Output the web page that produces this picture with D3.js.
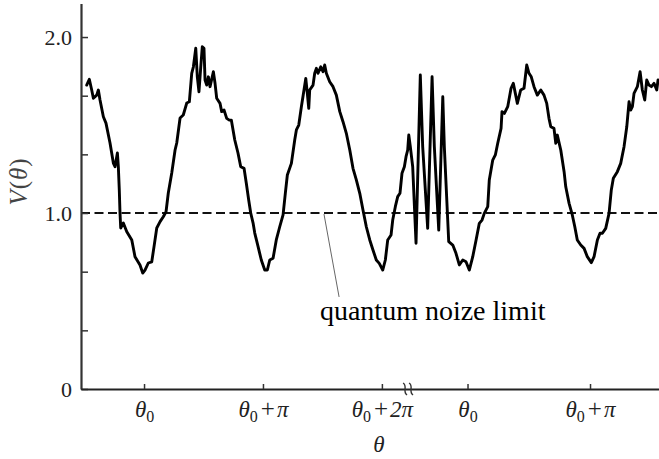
<!DOCTYPE html>
<html><head><meta charset="utf-8">
<script src="https://cdn.jsdelivr.net/npm/d3@7"></script>
<style>body{margin:0;background:#fff}svg{display:block}</style>
</head><body>
<svg id="c" width="659" height="459"></svg>
<script>
// phase (in units of π from θ0) vs V(θ)
const traceFirst = [
[-0.482,1.727],[-0.460,1.760],[-0.440,1.699],[-0.426,1.652],[-0.398,1.670],[-0.384,1.699],[-0.370,1.642],[-0.342,1.547],[-0.320,1.511],[-0.286,1.398],
[-0.258,1.284],[-0.244,1.263],[-0.224,1.341],[-0.216,1.263],[-0.208,1.131],[-0.202,1.000],[-0.196,0.915],[-0.174,0.943],[-0.145,0.894],[-0.103,0.847],
[-0.076,0.752],[-0.034,0.705],[-0.011,0.659],[0.008,0.676],[0.036,0.716],[0.065,0.723],[0.084,0.809],[0.107,0.915],[0.135,0.951],[0.162,0.979],
[0.185,1.007],[0.204,1.114],[0.233,1.227],[0.261,1.358],[0.275,1.398],[0.303,1.540],[0.330,1.557],[0.359,1.625],[0.381,1.632],[0.401,1.794],
[0.415,1.831],[0.435,1.936],[0.448,1.774],[0.462,1.689],[0.477,1.831],[0.490,1.945],[0.504,1.936],[0.513,1.756],[0.527,1.727],[0.541,1.774],
[0.555,1.718],[0.583,1.803],[0.597,1.737],[0.611,1.652],[0.639,1.623],[0.653,1.576],[0.673,1.585],[0.695,1.538],[0.717,1.528]
];
const traceSecond = [
[0.734,1.528],[0.763,1.415],[0.790,1.341],[0.813,1.263],[0.841,1.254],[0.860,1.169],[0.880,1.074],[0.897,1.000],[0.917,0.943],[0.931,0.886],
[0.959,0.809],[0.986,0.733],[1.015,0.676],[1.037,0.676],[1.057,0.733],[1.085,0.743],[1.112,0.847],[1.141,0.922],[1.169,0.989],[1.188,1.112],
[1.205,1.216],[1.239,1.282],[1.267,1.415],[1.281,1.472],[1.301,1.500],[1.323,1.604],[1.345,1.699],[1.360,1.765],[1.373,1.680],[1.385,1.595],
[1.393,1.699],[1.421,1.727],[1.435,1.794],[1.449,1.822],[1.463,1.794],[1.486,1.831],[1.505,1.803],[1.519,1.841],[1.533,1.794],[1.561,1.746],
[1.589,1.718],[1.617,1.670],[1.646,1.576],[1.673,1.519],[1.701,1.453],[1.730,1.358],[1.757,1.254],[1.785,1.188],[1.814,1.112],[1.841,1.017],
[1.869,0.922],[1.898,0.847],[1.925,0.790],[1.953,0.733],[1.978,0.714],[2.007,0.676],[2.029,0.733],[2.049,0.847],[2.077,0.875],[2.091,0.960],
[2.113,1.036],[2.133,1.093],[2.152,1.112],[2.169,1.226],[2.189,1.263],[2.203,1.320],[2.217,1.358],[2.226,1.443],[2.239,1.377],[2.259,1.263]
];
const traceNoisy = [
[2.287,0.828],[2.323,1.784],[2.343,1.377],[2.385,0.913],[2.422,1.774],[2.441,1.377],[2.478,0.903],[2.512,1.661],[2.525,1.377],[2.562,0.837]
];
const traceThird = [
[2.596,0.818],[2.623,0.771],[2.651,0.705],[2.680,0.733],[2.707,0.723],[2.735,0.676],[2.764,0.752],[2.792,0.847],[2.819,0.941],[2.842,0.960],
[2.861,0.998],[2.890,1.036],[2.903,1.188],[2.932,1.301],[2.954,1.330],[2.974,1.396],[3.002,1.481],[3.010,1.576],[3.030,1.566],[3.058,1.604],
[3.086,1.709],[3.105,1.737],[3.122,1.680],[3.139,1.623],[3.167,1.699],[3.195,1.709],[3.218,1.841],[3.237,1.794],[3.256,1.774],[3.279,1.718],
[3.307,1.670],[3.336,1.699],[3.363,1.670],[3.386,1.623],[3.405,1.538],[3.420,1.490],[3.447,1.481],[3.462,1.396],[3.475,1.443],[3.504,1.358],
[3.532,1.235],[3.546,1.149],[3.574,1.055],[3.601,0.989],[3.622,0.922],[3.643,0.847],[3.672,0.818],[3.700,0.799],[3.727,0.752],[3.761,0.718],
[3.784,0.752],[3.812,0.847],[3.834,0.885],[3.854,0.885],[3.882,0.913],[3.910,0.998],[3.929,1.131],[3.946,1.197],[3.980,1.235],[4.008,1.282],
[4.036,1.377],[4.059,1.490],[4.078,1.632],[4.092,1.585],[4.106,1.604],[4.120,1.680],[4.148,1.718],[4.171,1.803],[4.190,1.699],[4.210,1.642],
[4.227,1.756],[4.246,1.727],[4.266,1.718],[4.288,1.737],[4.311,1.699],[4.322,1.756]
];
const yTicks = [0, 1/3, 2/3, 1, 4/3, 5/3, 2];
const yTickLabels = ["0", "", "", "1.0", "", "", "2.0"];
const xTicks = [0, 1, 2, 2.72, 3.75];
const xTickLabels = ["θ0", "θ0+π", "θ0+2π", "θ0", "θ0+π"];
const limitValue = 1.0;
const axisBreakAt = 2.22;
const annotationText = "quantum noize limit";
const annotationFrom = [1.513, 0.994];
const annotationTo = [1.640, 0.523];
const annotationTextAt = [1.479, 0.392];
const xDomain = [-0.53, 4.33];
const yDomain = [0, 2.19];

const svg = d3.select("#c");
const x = d3.scaleLinear().domain(xDomain).range([81, 659]);
const y = d3.scaleLinear().domain(yDomain).range([389, 3.6]);
const serif = "'Liberation Serif','Times New Roman',serif";
const ink = "#222";

// dashed quantum-noise limit
svg.append("line")
  .attr("x1", x(xDomain[0])).attr("x2", x(xDomain[1]))
  .attr("y1", y(limitValue)).attr("y2", y(limitValue))
  .attr("stroke", "#111").attr("stroke-width", 2).attr("stroke-dasharray", "9,4.5");

// Y axis
const yAxis = d3.axisLeft(y).tickValues(yTicks)
  .tickFormat((d, i) => yTickLabels[i]).tickSizeInner(-7).tickSizeOuter(0).tickPadding(9);
const gy = svg.append("g").attr("transform", `translate(${x(xDomain[0])},0)`).call(yAxis);
gy.select(".domain").attr("stroke", "#333").attr("stroke-width", 2.2);
gy.selectAll(".tick line").attr("stroke", "#333").attr("stroke-width", 1.5);
gy.selectAll(".tick text").attr("font-family", serif).attr("font-size", 22).attr("fill", ink);

// X axis
const xAxis = d3.axisBottom(x).tickValues(xTicks).tickFormat("").tickSizeInner(-5).tickSizeOuter(0);
const gx = svg.append("g").attr("transform", `translate(0,${y(0)})`).call(xAxis);
gx.select(".domain").attr("stroke", "#222").attr("stroke-width", 2.2);
gx.selectAll(".tick line").attr("stroke", "#333").attr("stroke-width", 1.5);
gx.selectAll(".tick text").each(function(d, i) {
  const s = xTickLabels[i];
  const t = d3.select(this).text(null)
    .attr("font-family", serif).attr("font-size", 23).attr("fill", ink)
    .attr("y", 28).attr("dy", null).attr("text-anchor", "middle");
  t.append("tspan").attr("font-style", "italic").text(s[0]);
  t.append("tspan").attr("font-size", 16).attr("dy", 5).text(s[1]);
  const tail = s.slice(2);
  if (tail.length) {
    t.append("tspan").attr("dy", -5).attr("dx", 3).attr("font-size", 25).text(tail[0]);
    t.append("tspan").attr("font-style", "italic").attr("dx", 2).text(tail.slice(1));
  }
});

// axis break mark
const bx = x(axisBreakAt), by = y(0);
[-3, 3].forEach(o => {
  svg.append("path")
    .attr("d", `M${bx + o - 2},${by - 6} C${bx + o + 3},${by - 3} ${bx + o - 3},${by + 3} ${bx + o + 2},${by + 6}`)
    .attr("fill", "none").attr("stroke", "#333").attr("stroke-width", 1.4);
});

// trace
const trace = traceFirst.concat(traceSecond, traceNoisy, traceThird);
const line = d3.line().x(d => x(d[0])).y(d => y(d[1]));
svg.append("path").datum(trace).attr("d", line)
  .attr("fill", "none").attr("stroke", "#000").attr("stroke-width", 2.9)
  .attr("stroke-linejoin", "round").attr("stroke-linecap", "round");

// annotation
svg.append("line")
  .attr("x1", x(annotationFrom[0])).attr("y1", y(annotationFrom[1]))
  .attr("x2", x(annotationTo[0])).attr("y2", y(annotationTo[1]))
  .attr("stroke", "#666").attr("stroke-width", 1);
svg.append("text").attr("x", x(annotationTextAt[0])).attr("y", y(annotationTextAt[1]))
  .attr("font-family", serif).attr("font-size", 28).attr("fill", "#000").text(annotationText);

// axis titles
const yl = svg.append("text").attr("transform", "translate(27,182) rotate(-90)")
  .attr("text-anchor", "middle").attr("font-family", serif).attr("font-size", 25).attr("fill", "#444");
yl.append("tspan").attr("font-style", "italic").text("V");
yl.append("tspan").attr("dx", 1).text("(");
yl.append("tspan").attr("font-style", "italic").attr("dx", 1).text("θ");
yl.append("tspan").attr("dx", 1).text(")");
svg.append("text").attr("x", 379).attr("y", 452).attr("text-anchor", "middle")
  .attr("font-family", serif).attr("font-size", 23).attr("font-style", "italic").attr("fill", ink).text("θ");
</script>
</body></html>
